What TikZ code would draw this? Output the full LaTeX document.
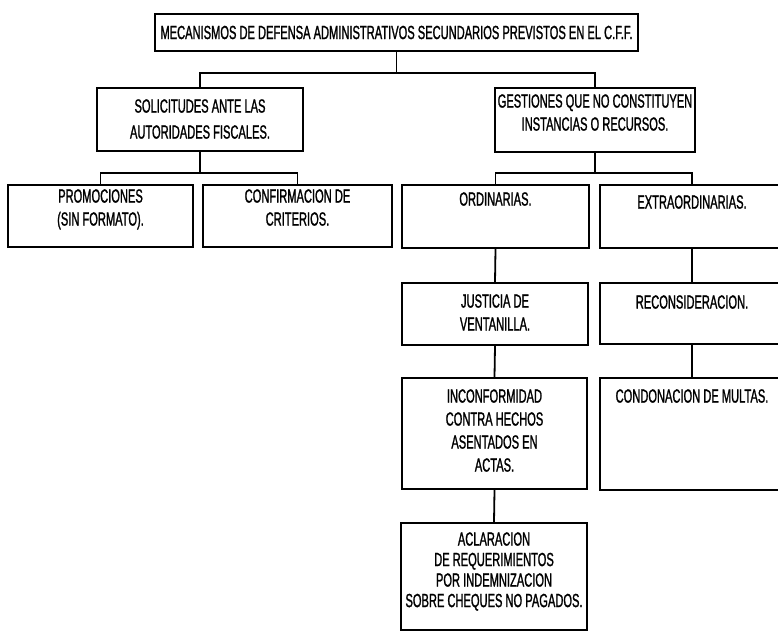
\documentclass[tikz,border=0pt]{standalone}
\usepackage{fontspec}
\setmainfont[FakeStretch=0.585,FakeBold=1.2]{Liberation Sans}
\begin{document}
\begin{tikzpicture}[x=1pt,y=-1pt,
  bx/.style={draw, line width=1.8pt, inner sep=0pt, minimum width=#1},
  tx/.style={anchor=north, inner sep=0pt, align=center, font=\fontsize{19}{23}\selectfont},
  ln/.style={line width=1.8pt}]
\useasboundingbox (0,0) rectangle (778,632);
\clip (0,0) rectangle (778,632);
% boxes
\node[bx=483, minimum height=37, font=\fontsize{19}{23}\selectfont] (top) at (396.5,32.5) {MECANISMOS DE DEFENSA ADMINISTRATIVOS SECUNDARIOS PREVISTOS EN EL C.F.F.};
\node[bx=206, minimum height=63] (sol) at (200,119.5) {};
\node[bx=200, minimum height=64] (ges) at (595,120) {};
\node[bx=185, minimum height=62] (pro) at (100.5,216) {};
\node[bx=189, minimum height=62] (con) at (297.5,216) {};
\node[bx=187, minimum height=63] (ord) at (495.5,216.5) {};
\node[bx=184, minimum height=63] (ext) at (692,216.5) {};
\node[bx=186, minimum height=62] (jus) at (495,314) {};
\node[bx=184, minimum height=61] (rec) at (692,313.5) {};
\node[bx=185, minimum height=111] (inc) at (494.5,433.5) {};
\node[bx=184, minimum height=112] (cnd) at (692,434) {};
\node[bx=186, minimum height=107] (acl) at (494,576.5) {};
% texts
\node[tx] (tsol) at ([yshift=-12]sol.north) {SOLICITUDES ANTE LAS\\[3pt]AUTORIDADES FISCALES.};
\node[tx] (tges) at ([yshift=-7]ges.north) {GESTIONES QUE NO CONSTITUYEN\\INSTANCIAS O RECURSOS.};
\node[tx] (tpro) at ([yshift=-5]pro.north) {PROMOCIONES\\(SIN FORMATO).};
\node[tx] (tcon) at ([yshift=-5]con.north) {CONFIRMACION DE\\CRITERIOS.};
\node[tx] (tord) at ([yshift=-8]ord.north) {ORDINARIAS.};
\node[tx] (text) at ([yshift=-11]ext.north) {EXTRAORDINARIAS.};
\node[tx] (tjus) at ([yshift=-12]jus.north) {JUSTICIA DE\\VENTANILLA.};
\node[tx] (trec) at ([yshift=-13]rec.north) {RECONSIDERACION.};
\node[tx] (tinc) at ([yshift=-12]inc.north) {INCONFORMIDAD\\CONTRA HECHOS\\ASENTADOS EN\\ACTAS.};
\node[tx] (tcnd) at ([yshift=-12]cnd.north) {CONDONACION DE MULTAS.};
\node[tx, font=\fontsize{19}{20.5}\selectfont] (tacl) at ([yshift=-10]acl.north) {ACLARACION\\DE REQUERIMIENTOS\\POR INDEMNIZACION\\SOBRE CHEQUES NO PAGADOS.};
% connectors
\draw[ln] (top.south) -- ++(0,21) -| (sol.north);
\draw[ln] (top.south) -- ++(0,21) -| (ges.north);
\draw[ln] (sol.south) -- ++(0,21) -| (pro.north);
\draw[ln] (sol.south) -- ++(0,21) -| (con.north);
\draw[ln] (ges.south) -- ++(0,20) -| (ord.north);
\draw[ln] (ges.south) -- ++(0,20) -| (ext.north);
\draw[ln] (ord.south) -- (jus.north);
\draw[ln] (ext.south) -- (rec.north);
\draw[ln] (jus.south) -- (inc.north);
\draw[ln] (rec.south) -- (cnd.north);
\draw[ln] (inc.south) -- (acl.north);
\end{tikzpicture}
\end{document}
